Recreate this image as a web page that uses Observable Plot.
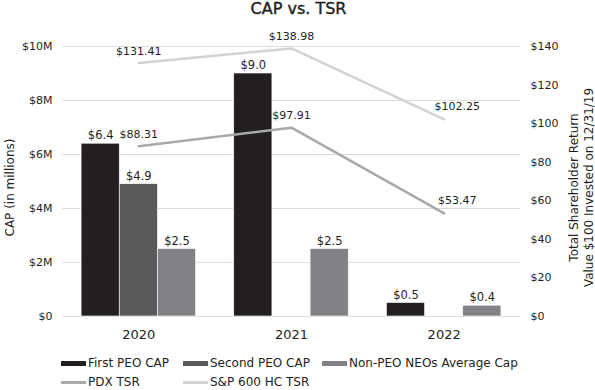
<!DOCTYPE html>
<html><head><meta charset="utf-8">
<script src="https://cdn.jsdelivr.net/npm/d3@7"></script>
<script src="https://cdn.jsdelivr.net/npm/@observablehq/plot@0.6"></script>
<style>
body{margin:0;background:#fff;font-family:"DejaVu Sans",sans-serif;color:#231f20;width:595px;}
#title{height:18px;line-height:18px;text-align:center;font-size:16px;font-weight:normal;-webkit-text-stroke:0.4px #231f20;padding-left:2px;}
#legend{display:grid;grid-template-columns:122px 139px auto;margin-left:61px;padding-top:9px;font-size:12px;line-height:19px;}
.item{display:flex;align-items:center;white-space:nowrap;}
.sw{display:inline-block;width:25px;margin-right:2px;}
</style></head><body>
<div id="title">CAP vs. TSR</div>
<div id="chart"></div>
<div id="legend"></div>
<script>
const years = [2020, 2021, 2022];
const barSeries = ["First PEO CAP", "Second PEO CAP", "Non-PEO NEOs Average Cap"];
const firstPEO = [6.4, 9.0, 0.5];
const secondPEO = [4.9, null, null];
const nonPEO = [2.5, 2.5, 0.4];
const lineSeries = ["PDX TSR", "S&P 600 HC TSR"];
const pdxTSR = [88.31, 97.91, 53.47];
const spTSR = [131.41, 138.98, 102.25];
const capTicks = [0, 2, 4, 6, 8, 10];
const tsrTicks = [0, 20, 40, 60, 80, 100, 120, 140];

const barColors = ["#231f20", "#58595b", "#808285"];
const lineColors = ["#a7a9ac", "#d1d3d4"];
const BW = 0.25;            // bar width in year units
const TSR_MAX = 140, CAP_MAX = 10;
const toCap = v => v * CAP_MAX / TSR_MAX;

const bars = [];
[firstPEO, secondPEO, nonPEO].forEach((arr, i) => arr.forEach((v, j) => {
  if (v != null) bars.push({year: years[j], idx: i, series: barSeries[i], value: v});
}));
const lines = [];
[pdxTSR, spTSR].forEach((arr, i) => arr.forEach((v, j) => lines.push({year: years[j], series: lineSeries[i], value: v, last: j === years.length - 1})));

const plot = Plot.plot({
  width: 595, height: 327,
  marginTop: 28, marginBottom: 29, marginLeft: 62, marginRight: 75,
  style: {fontFamily: "DejaVu Sans", fontSize: "11px", color: "#231f20", background: "#fff"},
  x: {domain: [2019.5, 2022.5], axis: null},
  y: {domain: [0, CAP_MAX], axis: null},
  color: {domain: barSeries, range: barColors},
  marks: [
    Plot.gridY(capTicks, {stroke: "#dcdddf", strokeOpacity: 1, strokeWidth: 1}),
    Plot.rect(bars, {
      x1: d => d.year + (d.idx - 1.5) * BW,
      x2: d => d.year + (d.idx - 0.5) * BW,
      y1: () => 0, y2: "value", fill: "series", stroke: "#fff", strokeWidth: 0.6
    }),
    Plot.text(bars, {x: d => d.year + (d.idx - 1) * BW, y: "value", text: d => "$" + d.value.toFixed(1), dy: -8, fontSize: 11.5, fill: "#231f20"}),
    Plot.line(lines, {x: "year", y: d => toCap(d.value), z: "series", stroke: d => lineColors[lineSeries.indexOf(d.series)], strokeWidth: 2.5}),
    Plot.text(lines.filter(d => !d.last), {x: "year", y: d => toCap(d.value), text: d => "$" + d.value.toFixed(2), dy: -12, fontSize: 11, fill: "#231f20"}),
    Plot.text(lines.filter(d => d.last), {x: "year", y: d => toCap(d.value), text: d => "$" + d.value.toFixed(2), dy: -13, dx: 13, fontSize: 11, fill: "#231f20"}),
    Plot.axisY(capTicks, {anchor: "left", tickSize: 0, tickPadding: 10, tickFormat: d => d === 0 ? "$0" : `$${d}M`, label: null, fontSize: 11}),
    Plot.axisY(tsrTicks.map(toCap), {anchor: "right", tickSize: 0, tickPadding: 10, tickFormat: d => "$" + Math.round(d * TSR_MAX / CAP_MAX), label: null, fontSize: 11}),
    Plot.axisX(years, {anchor: "bottom", tickSize: 0, tickPadding: 13, tickFormat: d => String(d), label: null, fontSize: 13}),
    Plot.text(["CAP (in millions)"], {frameAnchor: "left", textAnchor: "middle", rotate: -90, dx: -52, dy: 6, fontSize: 12, fill: "#231f20"}),
    Plot.text(["Total Shareholder Return\nValue $100 Invested on 12/31/19"], {frameAnchor: "right", textAnchor: "middle", rotate: -90, dx: 60, dy: 6, lineHeight: 1.25, fontSize: 12, fill: "#231f20"})
  ]
});
document.getElementById("chart").appendChild(plot);

const legend = document.getElementById("legend");
const items = barSeries.map((s, i) => ({name: s, color: barColors[i], h: 5}))
  .concat(lineSeries.map((s, i) => ({name: s, color: lineColors[i], h: 2.5})));
items.forEach(it => {
  const div = document.createElement("div");
  div.className = "item";
  const sw = document.createElement("span");
  sw.className = "sw";
  sw.style.height = it.h + "px";
  sw.style.background = it.color;
  div.appendChild(sw);
  div.appendChild(document.createTextNode(it.name));
  legend.appendChild(div);
});
</script>
</body></html>
